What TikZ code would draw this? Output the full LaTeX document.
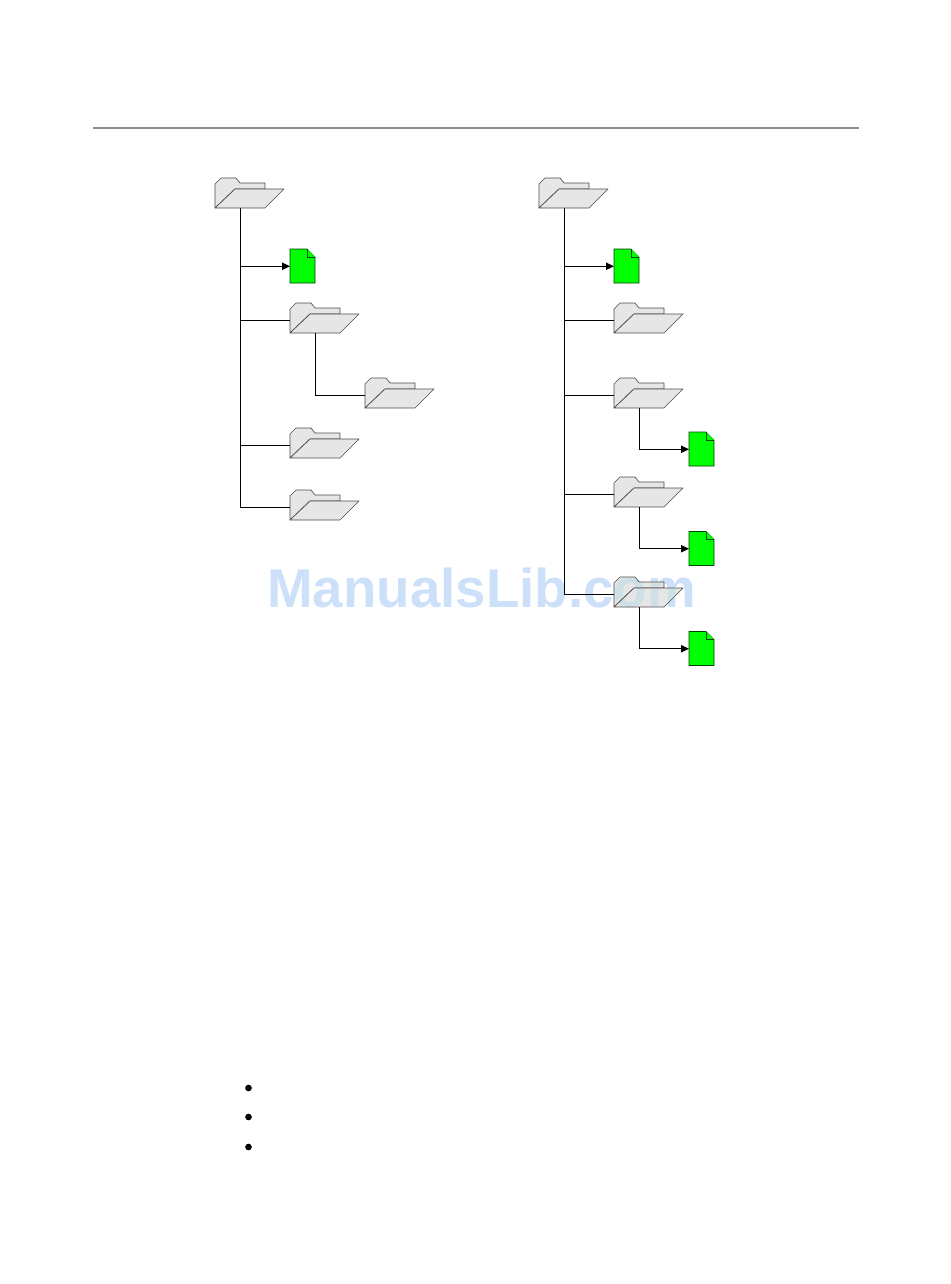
\documentclass[tikz,border=0pt]{standalone}
\usepackage{fontspec}
\setsansfont{Liberation Sans}
\usetikzlibrary{arrows.meta}

\definecolor{foldergray}{HTML}{E6E6E6}
\definecolor{markblue}{HTML}{CCE0F9}
\tikzset{
    folderbox/.style={anchor=north west, minimum width=51.75pt, minimum height=22.5pt, inner sep=0pt},
    filebox/.style={anchor=north west, minimum width=18.75pt, minimum height=25.5pt, inner sep=0pt},
    folderline/.style={draw=black!70, fill=foldergray, line width=0.5pt, line join=round},
    fileline/.style={draw=black!75!green, fill=green, line width=0.5pt},
    link/.style={draw=black, line width=0.6pt},
    arrowlink/.style={link, -{Triangle[length=6pt,width=5.5pt]}}
}
% folder: name, x, y
\newcommand{\folder}[3]{
    \node at (#2, #3) [folderbox] (#1) {};
    \coordinate (#1s) at (#2+25.5, #3+30);
    \coordinate (#1i) at (#2, #3+17);
    \draw [folderline, shift={(#1.north west)}] (0,30) -- (0,6) -- (6,0) -- (21,0) -- (25,5) -- (50,5) -- (50,11) -- (20,11) -- cycle;
    \draw [folderline, shift={(#1.north west)}] (0,30) -- (20,11) -- (69,11) -- (50,30) -- cycle;
}
% file: name, x, y
\newcommand{\docfile}[3]{
    \node at (#2, #3) [filebox] (#1) {};
    \draw [fileline, shift={(#1.north west)}] (0,0) -- (17,0) -- (25,8) -- (25,34) -- (0,34) -- cycle;
    \draw [fileline, shift={(#1.north west)}] (17,0) -- (17,8) -- (25,8);
}

\begin{document}
\begin{tikzpicture}[x=0.75pt, y=-0.75pt]
    \useasboundingbox (0,0) rectangle (950,1284);

    \coordinate (rule_a) at (93,128);
    \coordinate (rule_b) at (859,128);
    \draw [draw=black!45, line width=0.8pt] (rule_a) -- (rule_b);

    %left tree
    \folder{l_0}{215}{178}
    \docfile{lf_1}{290}{249}
    \folder{l_1}{290}{303}
    \folder{l_2}{365}{378}
    \folder{l_3}{290}{428}
    \folder{l_4}{290}{490}

    \draw [arrowlink] (l_0s) |- (lf_1.west);
    \draw [link] (l_0s) |- (l_1i);
    \draw [link] (l_1s) |- (l_2i);
    \draw [link] (l_0s) |- (l_3i);
    \draw [link] (l_0s) |- (l_4i);

    %right tree
    \folder{r_0}{539}{178}
    \docfile{rf_1}{614}{249}
    \folder{r_1}{614}{303}
    \folder{r_2}{614}{378}
    \docfile{rf_2}{689}{432}
    \folder{r_3}{614}{477}
    \docfile{rf_3}{689}{531.5}
    \folder{r_4}{614}{577}
    \docfile{rf_4}{689}{631.5}

    \draw [arrowlink] (r_0s) |- (rf_1.west);
    \draw [link] (r_0s) |- (r_1i);
    \draw [link] (r_0s) |- (r_2i);
    \draw [link] (r_0s) |- (r_3i);
    \draw [link] (r_0s) |- (r_4i);
    \draw [arrowlink] (r_2s) |- (rf_2.west);
    \draw [arrowlink] (r_3s) |- (rf_3.west);
    \draw [arrowlink] (r_4s) |- (rf_4.west);

    %bullets
    \node at (248.5, 1088) [circle, fill=black, inner sep=0pt, minimum size=5pt] (b_1) {};
    \node at (248.5, 1117) [circle, fill=black, inner sep=0pt, minimum size=5pt] (b_2) {};
    \node at (248.5, 1147) [circle, fill=black, inner sep=0pt, minimum size=5pt] (b_3) {};

    %watermark
    \begin{scope}[blend mode=darken]
        \node at (481.5, 588) [text=markblue, inner sep=0pt, font=\sffamily\bfseries\fontsize{41pt}{41pt}\selectfont] (wm) {ManualsLib.com};
    \end{scope}
\end{tikzpicture}
\end{document}
